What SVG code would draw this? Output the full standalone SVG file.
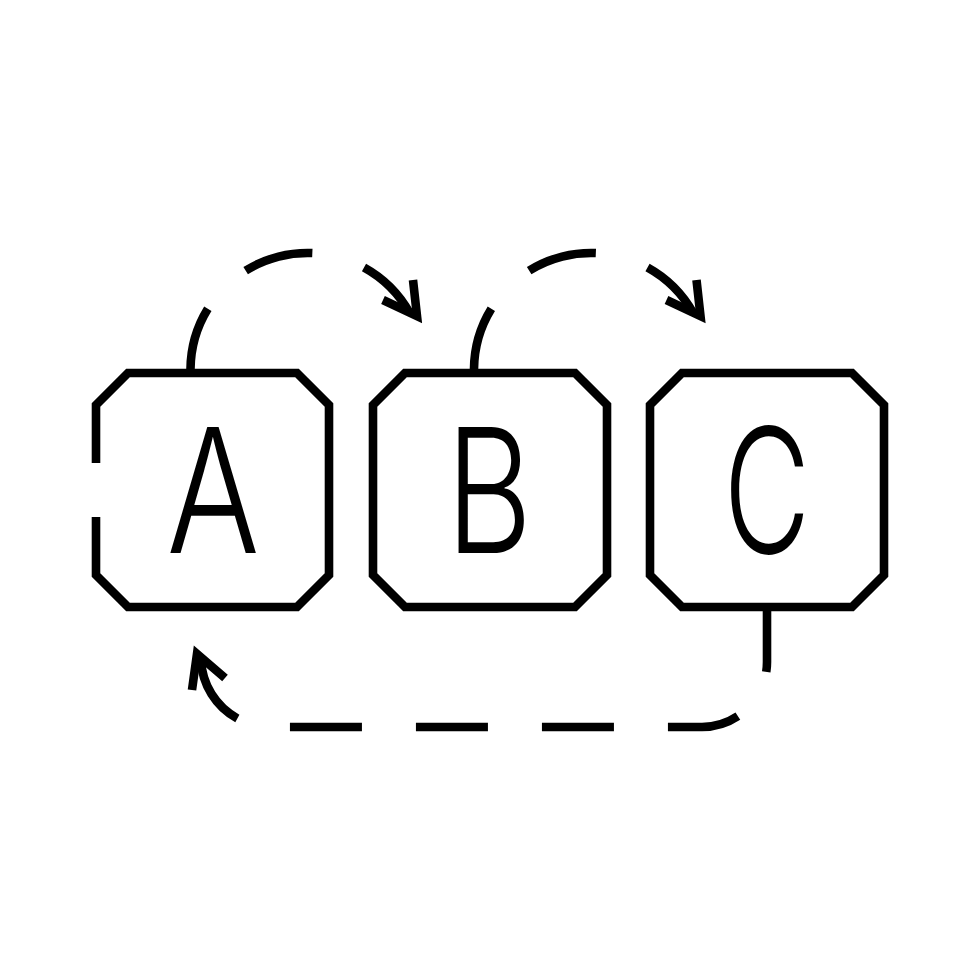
<svg xmlns="http://www.w3.org/2000/svg" width="980" height="980" viewBox="0 0 980 980">
<style>
.box{fill:none;stroke:#000;stroke-width:8.6;stroke-linejoin:miter;stroke-linecap:butt}
.lbl{font-family:Inter,"DejaVu Sans",sans-serif;font-weight:300;font-size:173px;fill:#000;text-anchor:middle}
.arc{fill:none;stroke:#000;stroke-width:8.6;stroke-dasharray:70 54;stroke-dashoffset:2.5}
.loop{fill:none;stroke:#000;stroke-width:8.6;stroke-dasharray:72 54;stroke-dashoffset:7}
.head{fill:none;stroke:#000;stroke-width:8.6;stroke-linejoin:miter;stroke-miterlimit:10}
</style>
<rect width="980" height="980" fill="#fff"/>
<g id="node-a">
<path class="box" d="M96,463 V405 L128,373 H297 L329,405 V575 L297,607 H128 L96,575 V517"/>
<text class="lbl" transform="translate(213,553) scale(0.8,1)">A</text>
</g>
<g id="node-b">
<path class="box" d="M373,405 L405,373 H575 L607,405 V575 L575,607 H405 L373,575 Z"/>
<text class="lbl" transform="translate(489,553) scale(0.77,1)">B</text>
</g>
<g id="node-c">
<path class="box" d="M650,405 L682,373 H852 L884,405 V575 L852,607 H682 L650,575 Z"/>
<text class="lbl" transform="translate(767,553) scale(0.69,1)">C</text>
</g>
<g id="connectors">
<path class="arc" d="M190.5,373 V369 A117,117 0 0 1 409.8,313.2"/>
<path class="head" d="M413,280 L417,316 L383,300"/>
<path class="arc" d="M474,373 V369 A117,117 0 0 1 693.3,313.2"/>
<path class="head" d="M696.5,280 L700.5,316 L666.5,300"/>
<path class="loop" d="M767,607 V662 A65,65 0 0 1 702,727 H271 A70,70 0 0 1 201,659.4"/>
<path class="head" d="M192,690 L197,654 L225,678"/>
</g>
</svg>
